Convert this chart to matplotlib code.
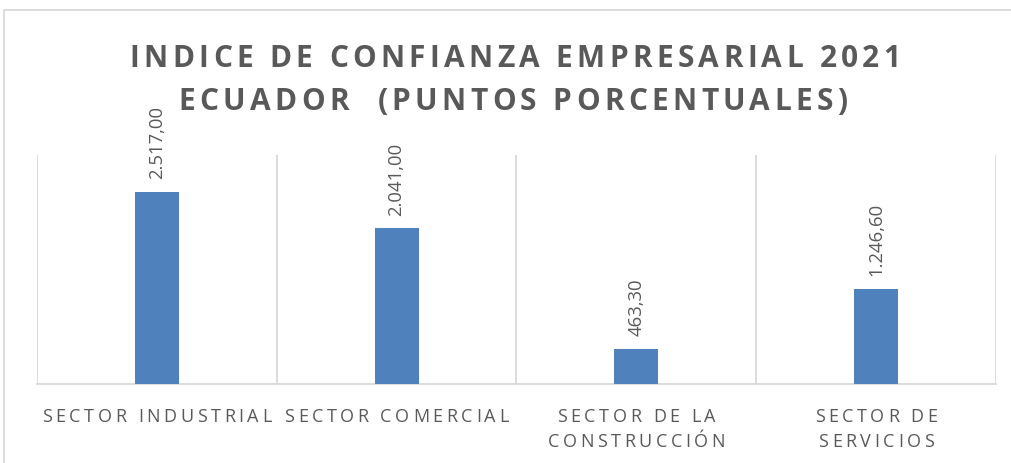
import matplotlib
matplotlib.use('Agg')
import matplotlib.pyplot as plt
import matplotlib.transforms as mtransforms
import numpy as np
from matplotlib.font_manager import FontProperties, findfont, get_font
from matplotlib.patches import Rectangle

# data
categories = ['SECTOR INDUSTRIAL', 'SECTOR COMERCIAL', 'SECTOR DE LA\nCONSTRUCCIÓN', 'SECTOR DE\nSERVICIOS']
values = [2517.00, 2041.00, 463.30, 1246.60]
title_lines = ['INDICE DE CONFIANZA EMPRESARIAL 2021', 'ECUADOR  (PUNTOS PORCENTUALES)']

TEXT_GRAY = '#595959'
GRID_GRAY = '#D9D9D9'
BAR_BLUE = '#4F81BD'


def fmt_es(v):
    s = '{:,.2f}'.format(v)
    return s.replace(',', '#').replace('.', ',').replace('#', '.')


def advances(s, prop):
    font = get_font(findfont(prop))
    font.set_size(prop.get_size_in_points(), 72)
    return [font.load_char(ord(c)).linearHoriAdvance / 65536 for c in s]


def spaced_text(draw, fig, base_trans, x, y, s, prop, spacing, dy=0):
    # letter-spaced text, centred on x, baseline at y (+dy points)
    adv = advances(s, prop)
    total = sum(adv) + spacing * (len(s) - 1)
    pos = -total / 2
    for c, a in zip(s, adv):
        if c != ' ':
            tr = mtransforms.offset_copy(base_trans, fig=fig, x=pos, y=dy, units='points')
            draw(x, y, c, transform=tr, fontproperties=prop, color=TEXT_GRAY,
                 ha='left', va='baseline')
        pos += a + spacing


fig = plt.figure(figsize=(10.12, 4.63), dpi=100)
ax = fig.add_axes([37 / 1012, 1 - 384 / 463, (996 - 37) / 1012, (384 - 155) / 463])

x = np.arange(len(categories))
ax.bar(x, values, width=0.183, color=BAR_BLUE, zorder=3)
ax.set_xlim(-0.5, len(categories) - 0.5)
ax.set_ylim(0, 3000)

ax.set_xticks(x)
ax.set_xticklabels([])
ax.set_xticks(np.arange(len(categories) + 1) - 0.5, minor=True)
ax.tick_params(axis='both', which='both', length=0)
ax.set_yticks([])
ax.grid(axis='x', which='minor', color=GRID_GRAY, lw=1.3)
for side in ['left', 'right', 'top']:
    ax.spines[side].set_visible(False)
ax.spines['bottom'].set_color(GRID_GRAY)
ax.spines['bottom'].set_linewidth(1.3)

# data labels
label_font = FontProperties(family='Open Sans', size=13.3)
for xi, v in zip(x, values):
    ax.annotate(fmt_es(v), xy=(xi, v), xytext=(0, 9), textcoords='offset points',
                rotation=90, ha='center', va='bottom', fontproperties=label_font,
                color=TEXT_GRAY)

# category labels
tick_font = FontProperties(family='Open Sans', size=13)
xtrans = ax.get_xaxis_transform()
for xi, cat in zip(x, categories):
    for k, line in enumerate(cat.split('\n')):
        spaced_text(ax.text, fig, xtrans, xi, 0, line, tick_font, 2.55, dy=-27.1 - 18.0 * k)

# title
title_font = FontProperties(family='Open Sans', size=21.5, weight='bold')
spaced_text(fig.text, fig, fig.transFigure, 515 / 1012, 1 - 67 / 463, title_lines[0], title_font, 3.1)
spaced_text(fig.text, fig, fig.transFigure, 513 / 1012, 1 - 110 / 463, title_lines[1], title_font, 3.1)

# chart area border
fig.add_artist(Rectangle((4 / 1012, -0.1), 1.2, 1.1 - 10 / 463, transform=fig.transFigure,
                         fill=False, edgecolor=GRID_GRAY, lw=1.3))

fig.savefig('out.png', dpi=100)
